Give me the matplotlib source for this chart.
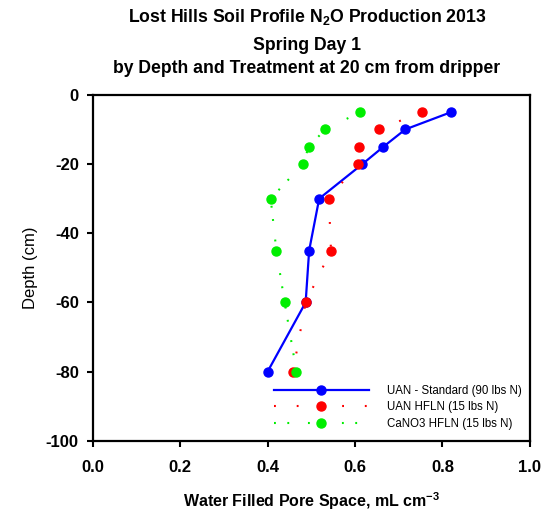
import matplotlib
matplotlib.use('Agg')
import matplotlib.pyplot as plt

plt.rcParams['font.family'] = ['Liberation Sans', 'DejaVu Sans']
plt.rcParams['mathtext.default'] = 'regular'

# depth of each sampling point (cm)
depth = [-5, -10, -15, -20, -30, -45, -60, -80]

# water filled pore space per treatment
uan_std = [0.820, 0.715, 0.665, 0.617, 0.518, 0.495, 0.487, 0.400]
uan_hfln = [0.753, 0.654, 0.608, 0.606, 0.540, 0.545, 0.487, 0.458]
cano3_hfln = [0.612, 0.532, 0.494, 0.481, 0.407, 0.420, 0.439, 0.466]

labels = ['UAN - Standard (90 lbs N)', 'UAN HFLN (15 lbs N)', 'CaNO3 HFLN (15 lbs N)']

fig = plt.figure(figsize=(5.52, 5.18), dpi=100)
ax = fig.add_axes([0.168, 0.149, 0.792, 0.668])

ax.plot(uan_std, depth, color='#0000ff', lw=1.6, marker='o', ms=6.5,
        label=labels[0])
ax.plot(uan_hfln, depth, color='#ff0000', lw=1.5, ls=(0, (0.9, 10)),
        marker='o', ms=6.5, label=labels[1])
ax.plot(cano3_hfln, depth, color='#00ee00', lw=1.5, ls=(0, (0.9, 5.5, 0.9, 9)),
        marker='o', ms=6.5, label=labels[2])

ax.set_xlim(0, 1.0)
ax.set_ylim(-100, 0)
ax.set_xticks([0.0, 0.2, 0.4, 0.6, 0.8, 1.0])
ax.set_yticks([0, -20, -40, -60, -80, -100])
ax.set_xticklabels(['0.0', '0.2', '0.4', '0.6', '0.8', '1.0'])
ax.set_yticklabels(['0', '-20', '-40', '-60', '-80', '-100'])
ax.tick_params(axis='y', direction='out', length=4, width=1.5, labelsize=12, pad=6)
ax.tick_params(axis='x', direction='out', length=4, width=1.5, labelsize=12, pad=10)
ax.tick_params(top=False, right=False)
for lab in ax.get_xticklabels() + ax.get_yticklabels():
    lab.set_fontweight('bold')
for sp in ax.spines.values():
    sp.set_linewidth(1.6)

ax.set_ylabel('Depth (cm)', fontsize=12, labelpad=6)
ax.set_xlabel('Water Filled Pore Space, mL cm$^{-3}$', fontsize=11.5,
              fontweight='bold', labelpad=11)

fig.text(0.556, 0.967, 'Lost Hills Soil Profile N$_2$O Production 2013',
         ha='center', va='center', fontsize=12.7, fontweight='bold')
fig.text(0.556, 0.913, 'Spring Day 1', ha='center', va='center',
         fontsize=12.7, fontweight='bold')
fig.text(0.556, 0.868, 'by Depth and Treatment at 20 cm from dripper',
         ha='center', va='center', fontsize=12.7, fontweight='bold')

ax.legend(loc='lower right', bbox_to_anchor=(1.0, 0.008), frameon=False,
          fontsize=8.3, handlelength=8.2, handletextpad=1.6, labelspacing=0.4,
          borderaxespad=0.3)

fig.savefig('out.png', dpi=100)
